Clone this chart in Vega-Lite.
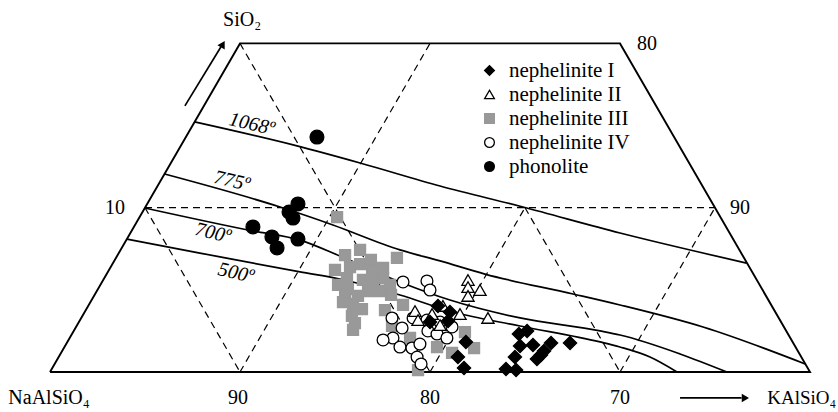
{
  "$schema": "https://vega.github.io/schema/vega-lite/v6.json",
  "width": 838,
  "height": 412,
  "padding": 0,
  "autosize": {"type": "none"},
  "background": "white",
  "config": {
    "view": {"stroke": null},
    "text": {"font": "Liberation Serif", "fontSize": 20, "color": "black"},
    "legend": {"orient": "none", "legendX": 479, "legendY": 60, "labelFont": "Liberation Serif", "labelFontSize": 21, "labelColor": "black", "symbolSize": 95, "rowPadding": 2, "labelOffset": 9, "symbolStrokeWidth": 1.3, "padding": 0, "labelLimit": 300}
  },
  "datasets": {
    "frame": [
      {"i": 0, "x": 0, "y": 0}, {"i": 1, "x": 10, "y": 20}, {"i": 2, "x": 30, "y": 20}, {"i": 3, "x": 40, "y": 0}, {"i": 4, "x": 0, "y": 0}
    ],
    "grid": [
      {"id": "g1", "i": 0, "x": 5, "y": 10}, {"id": "g1", "i": 1, "x": 35, "y": 10},
      {"id": "g2", "i": 0, "x": 5, "y": 10}, {"id": "g2", "i": 1, "x": 10, "y": 0},
      {"id": "g3", "i": 0, "x": 10, "y": 20}, {"id": "g3", "i": 1, "x": 20, "y": 0},
      {"id": "g4", "i": 0, "x": 25, "y": 10}, {"id": "g4", "i": 1, "x": 30, "y": 0},
      {"id": "g5", "i": 0, "x": 10, "y": 0}, {"id": "g5", "i": 1, "x": 20, "y": 20},
      {"id": "g6", "i": 0, "x": 20, "y": 0}, {"id": "g6", "i": 1, "x": 25, "y": 10},
      {"id": "g7", "i": 0, "x": 30, "y": 0}, {"id": "g7", "i": 1, "x": 35, "y": 10}
    ],
    "iso": [
      {"id": "1068", "i": 0, "x": 7.61, "y": 15.22}, {"id": "1068", "i": 1, "x": 13.0, "y": 13.76}, {"id": "1068", "i": 2, "x": 16.32, "y": 12.72}, {"id": "1068", "i": 3, "x": 20.53, "y": 11.32}, {"id": "1068", "i": 4, "x": 24.89, "y": 10.04}, {"id": "1068", "i": 5, "x": 30.0, "y": 8.46}, {"id": "1068", "i": 6, "x": 36.66, "y": 6.63},
      {"id": "775", "i": 0, "x": 6.03, "y": 12.05}, {"id": "775", "i": 1, "x": 12.11, "y": 10.04}, {"id": "775", "i": 2, "x": 14.89, "y": 8.95}, {"id": "775", "i": 3, "x": 18.42, "y": 7.43}, {"id": "775", "i": 4, "x": 20.53, "y": 6.76}, {"id": "775", "i": 5, "x": 22.89, "y": 5.96}, {"id": "775", "i": 6, "x": 27.53, "y": 4.75}, {"id": "775", "i": 7, "x": 30.0, "y": 4.08}, {"id": "775", "i": 8, "x": 34.37, "y": 2.74}, {"id": "775", "i": 9, "x": 39.75, "y": 0.49},
      {"id": "700", "i": 0, "x": 4.99, "y": 9.98}, {"id": "700", "i": 1, "x": 10.68, "y": 8.58}, {"id": "700", "i": 2, "x": 13.16, "y": 8.03}, {"id": "700", "i": 3, "x": 15.26, "y": 7.06}, {"id": "700", "i": 4, "x": 18.42, "y": 5.48}, {"id": "700", "i": 5, "x": 21.05, "y": 4.38}, {"id": "700", "i": 6, "x": 24.74, "y": 3.29}, {"id": "700", "i": 7, "x": 28.95, "y": 2.5}, {"id": "700", "i": 8, "x": 30.0, "y": 2.25}, {"id": "700", "i": 9, "x": 33.16, "y": 1.1}, {"id": "700", "i": 10, "x": 35.63, "y": 0},
      {"id": "500", "i": 0, "x": 4.05, "y": 8.09}, {"id": "500", "i": 1, "x": 7.89, "y": 7.24}, {"id": "500", "i": 2, "x": 13.16, "y": 6.09}, {"id": "500", "i": 3, "x": 15.26, "y": 5.66}, {"id": "500", "i": 4, "x": 18.42, "y": 4.69}, {"id": "500", "i": 5, "x": 21.21, "y": 3.65}, {"id": "500", "i": 6, "x": 24.74, "y": 2.8}, {"id": "500", "i": 7, "x": 28.95, "y": 1.83}, {"id": "500", "i": 8, "x": 30.0, "y": 1.52}, {"id": "500", "i": 9, "x": 31.58, "y": 0.91}, {"id": "500", "i": 10, "x": 33.0, "y": 0}
    ],
    "arrows": [
      {"id": "si", "i": 0, "x": 7.1, "y": 16.2}, {"id": "si", "i": 1, "x": 9.0, "y": 19.8},
      {"id": "ks", "i": 0, "x": 33.16, "y": -1.58}, {"id": "ks", "i": 1, "x": 36.4, "y": -1.58}
    ],
    "headSi": [{"x": 9.1, "y": 19.95}],
    "headKs": [{"x": 36.6, "y": -1.58}],
    "labels": [
      {"t": "SiO₂", "x": 10.11, "y": 21.42},
      {"t": "10", "x": 3.42, "y": 9.98},
      {"t": "80", "x": 31.42, "y": 19.96},
      {"t": "90", "x": 36.32, "y": 9.98},
      {"t": "NaAlSiO₄", "x": -0.05, "y": -1.58},
      {"t": "90", "x": 9.89, "y": -1.58},
      {"t": "80", "x": 20.0, "y": -1.58},
      {"t": "70", "x": 30.0, "y": -1.58}
    ],
    "labelsLeft": [
      {"t": "KAlSiO₄", "x": 37.75, "y": -1.58}
    ],
    "isoLabels": [
      {"t": "1068º", "x": 10.63, "y": 15.09},
      {"t": "775º", "x": 9.58, "y": 11.63},
      {"t": "700º", "x": 8.58, "y": 8.46},
      {"t": "500º", "x": 9.79, "y": 6.03}
    ],
    "pIII": [
      {"g": "nephelinite III", "x": 15.11, "y": 9.43}, {"g": "nephelinite III", "x": 15.53, "y": 7.12}, {"g": "nephelinite III", "x": 15.79, "y": 6.39}, {"g": "nephelinite III", "x": 16.32, "y": 6.57}, {"g": "nephelinite III", "x": 16.89, "y": 6.82}, {"g": "nephelinite III", "x": 17.53, "y": 6.33}, {"g": "nephelinite III", "x": 18.26, "y": 6.94}, {"g": "nephelinite III", "x": 16.95, "y": 6.09}, {"g": "nephelinite III", "x": 15.63, "y": 5.72}, {"g": "nephelinite III", "x": 16.95, "y": 5.42}, {"g": "nephelinite III", "x": 17.53, "y": 5.72}, {"g": "nephelinite III", "x": 15.16, "y": 5.3}, {"g": "nephelinite III", "x": 15.68, "y": 5.05}, {"g": "nephelinite III", "x": 16.21, "y": 4.63}, {"g": "nephelinite III", "x": 16.74, "y": 4.93}, {"g": "nephelinite III", "x": 17.37, "y": 4.93}, {"g": "nephelinite III", "x": 17.89, "y": 5.3}, {"g": "nephelinite III", "x": 17.95, "y": 4.69}, {"g": "nephelinite III", "x": 15.42, "y": 4.26}, {"g": "nephelinite III", "x": 15.95, "y": 4.14}, {"g": "nephelinite III", "x": 16.42, "y": 3.83}, {"g": "nephelinite III", "x": 15.89, "y": 3.41}, {"g": "nephelinite III", "x": 16.05, "y": 2.98}, {"g": "nephelinite III", "x": 15.95, "y": 2.56}, {"g": "nephelinite III", "x": 17.63, "y": 3.77}, {"g": "nephelinite III", "x": 18.58, "y": 4.08}, {"g": "nephelinite III", "x": 18.0, "y": 2.8}, {"g": "nephelinite III", "x": 18.95, "y": 2.07}, {"g": "nephelinite III", "x": 20.37, "y": 1.52}, {"g": "nephelinite III", "x": 21.16, "y": 1.16}, {"g": "nephelinite III", "x": 21.84, "y": 2.43}, {"g": "nephelinite III", "x": 22.32, "y": 1.46}, {"g": "nephelinite III", "x": 19.37, "y": 0.12}, {"g": "nephelinite III", "x": 15.0, "y": 6.21}, {"g": "nephelinite III", "x": 16.47, "y": 5.6}, {"g": "nephelinite III", "x": 15.53, "y": 4.81}, {"g": "nephelinite III", "x": 16.32, "y": 7.43}
    ],
    "pIV": [
      {"g": "nephelinite IV", "x": 18.58, "y": 5.48}, {"g": "nephelinite IV", "x": 19.84, "y": 5.54}, {"g": "nephelinite IV", "x": 20.0, "y": 4.99}, {"g": "nephelinite IV", "x": 18.0, "y": 3.29}, {"g": "nephelinite IV", "x": 18.53, "y": 2.68}, {"g": "nephelinite IV", "x": 18.05, "y": 2.07}, {"g": "nephelinite IV", "x": 17.53, "y": 1.95}, {"g": "nephelinite IV", "x": 18.42, "y": 1.52}, {"g": "nephelinite IV", "x": 19.05, "y": 1.46}, {"g": "nephelinite IV", "x": 19.47, "y": 1.7}, {"g": "nephelinite IV", "x": 19.32, "y": 0.91}, {"g": "nephelinite IV", "x": 19.53, "y": 0.49}, {"g": "nephelinite IV", "x": 19.84, "y": 3.16}, {"g": "nephelinite IV", "x": 19.89, "y": 2.5}, {"g": "nephelinite IV", "x": 20.37, "y": 2.31}, {"g": "nephelinite IV", "x": 20.89, "y": 2.07}, {"g": "nephelinite IV", "x": 21.16, "y": 2.74}, {"g": "nephelinite IV", "x": 20.53, "y": 3.04}, {"g": "nephelinite IV", "x": 19.11, "y": 3.29}
    ],
    "pII": [
      {"g": "nephelinite II", "x": 22.0, "y": 5.6}, {"g": "nephelinite II", "x": 22.0, "y": 5.17}, {"g": "nephelinite II", "x": 22.63, "y": 4.99}, {"g": "nephelinite II", "x": 22.0, "y": 4.63}, {"g": "nephelinite II", "x": 19.21, "y": 3.71}, {"g": "nephelinite II", "x": 19.37, "y": 3.16}, {"g": "nephelinite II", "x": 20.68, "y": 4.02}, {"g": "nephelinite II", "x": 20.11, "y": 3.53}, {"g": "nephelinite II", "x": 20.53, "y": 2.86}, {"g": "nephelinite II", "x": 21.58, "y": 3.53}, {"g": "nephelinite II", "x": 23.05, "y": 3.29}
    ],
    "pI": [
      {"g": "nephelinite I", "x": 20.42, "y": 4.02}, {"g": "nephelinite I", "x": 21.05, "y": 3.65}, {"g": "nephelinite I", "x": 20.0, "y": 3.04}, {"g": "nephelinite I", "x": 20.95, "y": 3.1}, {"g": "nephelinite I", "x": 21.89, "y": 1.83}, {"g": "nephelinite I", "x": 21.47, "y": 0.91}, {"g": "nephelinite I", "x": 21.79, "y": 0.24}, {"g": "nephelinite I", "x": 24.68, "y": 2.31}, {"g": "nephelinite I", "x": 25.11, "y": 2.5}, {"g": "nephelinite I", "x": 24.74, "y": 1.58}, {"g": "nephelinite I", "x": 25.42, "y": 1.64}, {"g": "nephelinite I", "x": 26.0, "y": 1.28}, {"g": "nephelinite I", "x": 26.37, "y": 1.77}, {"g": "nephelinite I", "x": 27.37, "y": 1.77}, {"g": "nephelinite I", "x": 24.47, "y": 0.91}, {"g": "nephelinite I", "x": 25.63, "y": 0.79}, {"g": "nephelinite I", "x": 24.0, "y": 0.18}, {"g": "nephelinite I", "x": 24.53, "y": 0.12}, {"g": "nephelinite I", "x": 25.84, "y": 1.03}
    ],
    "pPh": [
      {"g": "phonolite", "x": 14.05, "y": 14.3}, {"g": "phonolite", "x": 13.05, "y": 10.23}, {"g": "phonolite", "x": 12.58, "y": 9.74}, {"g": "phonolite", "x": 12.79, "y": 9.37}, {"g": "phonolite", "x": 10.68, "y": 8.83}, {"g": "phonolite", "x": 11.68, "y": 8.22}, {"g": "phonolite", "x": 11.95, "y": 7.55}, {"g": "phonolite", "x": 13.05, "y": 8.09}
    ]
  },
  "encoding": {
    "x": {"field": "x", "type": "quantitative", "axis": null, "scale": {"domain": [-2.6316, 41.4737], "nice": false, "zero": false}},
    "y": {"field": "y", "type": "quantitative", "axis": null, "scale": {"domain": [-2.4346, 22.6415], "nice": false, "zero": false}},
    "shape": {"field": "g", "type": "nominal",
      "scale": {"domain": ["nephelinite I", "nephelinite II", "nephelinite III", "nephelinite IV", "phonolite"], "range": ["diamond", "triangle-up", "square", "circle", "circle"]},
      "legend": {"title": null}},
    "fill": {"field": "g", "type": "nominal",
      "scale": {"domain": ["nephelinite I", "nephelinite II", "nephelinite III", "nephelinite IV", "phonolite"], "range": ["#000000", "#ffffff", "#999999", "#ffffff", "#000000"]},
      "legend": {"title": null}},
    "stroke": {"field": "g", "type": "nominal",
      "scale": {"domain": ["nephelinite I", "nephelinite II", "nephelinite III", "nephelinite IV", "phonolite"], "range": ["#000000", "#000000", "#999999", "#000000", "#000000"]},
      "legend": {"title": null}}
  },
  "layer": [
    {
      "data": {"name": "grid"},
      "mark": {"type": "line", "color": "black", "strokeWidth": 1.2, "strokeDash": [7, 5]},
      "encoding": {"detail": {"field": "id"}, "order": {"field": "i"}, "shape": null, "fill": null, "stroke": null}
    },
    {
      "data": {"name": "frame"},
      "mark": {"type": "line", "color": "black", "strokeWidth": 1.9, "strokeJoin": "miter"},
      "encoding": {"order": {"field": "i"}, "shape": null, "fill": null, "stroke": null}
    },
    {
      "data": {"name": "iso"},
      "mark": {"type": "line", "color": "black", "strokeWidth": 1.7, "interpolate": "monotone"},
      "encoding": {"detail": {"field": "id"}, "order": {"field": "i"}, "shape": null, "fill": null, "stroke": null}
    },
    {
      "data": {"name": "arrows"},
      "mark": {"type": "line", "color": "black", "strokeWidth": 1.7},
      "encoding": {"detail": {"field": "id"}, "order": {"field": "i"}, "shape": null, "fill": null, "stroke": null}
    },
    {
      "data": {"name": "headSi"},
      "mark": {"type": "point", "shape": "triangle-up", "angle": 30, "filled": true, "color": "black", "size": 70, "opacity": 1},
      "encoding": {"shape": null, "fill": null, "stroke": null}
    },
    {
      "data": {"name": "headKs"},
      "mark": {"type": "point", "shape": "triangle-right", "filled": true, "color": "black", "size": 70, "opacity": 1},
      "encoding": {"shape": null, "fill": null, "stroke": null}
    },
    {
      "data": {"name": "labels"},
      "mark": {"type": "text", "align": "center", "baseline": "middle", "fontSize": 20},
      "encoding": {"text": {"field": "t"}, "shape": null, "fill": null, "stroke": null}
    },
    {
      "data": {"name": "labelsLeft"},
      "mark": {"type": "text", "align": "left", "baseline": "middle", "fontSize": 19},
      "encoding": {"text": {"field": "t"}, "shape": null, "fill": null, "stroke": null}
    },
    {
      "data": {"name": "isoLabels"},
      "mark": {"type": "text", "align": "center", "baseline": "middle", "fontStyle": "italic", "angle": 13, "fontSize": 20},
      "encoding": {"text": {"field": "t"}, "shape": null, "fill": null, "stroke": null}
    },
    {
      "data": {"name": "pIII"},
      "mark": {"type": "point", "strokeWidth": 1.3, "opacity": 1, "size": 120}
    },
    {
      "data": {"name": "pIV"},
      "mark": {"type": "point", "strokeWidth": 1.3, "opacity": 1, "size": 140}
    },
    {
      "data": {"name": "pII"},
      "mark": {"type": "point", "strokeWidth": 1.3, "opacity": 1, "size": 150}
    },
    {
      "data": {"name": "pI"},
      "mark": {"type": "point", "strokeWidth": 1.3, "opacity": 1, "size": 175}
    },
    {
      "data": {"name": "pPh"},
      "mark": {"type": "point", "strokeWidth": 1.3, "opacity": 1, "size": 190}
    }
  ]
}
